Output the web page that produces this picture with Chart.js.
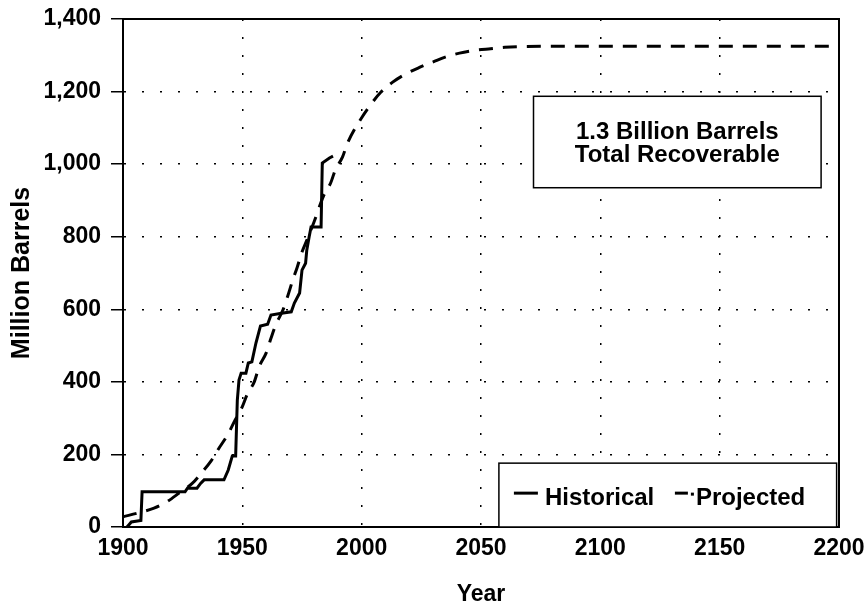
<!DOCTYPE html>
<html><head><meta charset="utf-8">
<script src="https://cdn.jsdelivr.net/npm/chart.js@4/dist/chart.umd.min.js"></script>
<style>html,body{margin:0;padding:0;background:#fff}#wrap{width:868px;height:610px}</style>
</head><body><div id="wrap"><canvas id="c" width="868" height="610"></canvas></div>
<script>
// ---- data ----
const histYears  = [1901.7,1903.5,1907.5,1908,1926,1927,1931,1932.5,1934,1942.3,1944.1,1945.8,1947.2,1947.9,1948.6,1949.5,1951.5,1952.5,1954,1955.7,1957.6,1960.6,1962,1966.4,1970.5,1971.8,1974,1975,1976.5,1977,1978,1978.8,1983,1983.5,1986.5,1988];
const histValues = [0,14,18,97,97,107,107,120,130,130,157,196,196,350,405,424,424,452,455,507,554,559,584,589,593,617,645,708,727,763,800,827,827,1003,1017,1022];
const projYears  = [1900,1907,1913,1918,1924,1929,1933,1937,1940,1944,1947,1950,1952,1955,1957,1960,1962,1964,1967,1969,1971,1973,1975,1977,1980,1984,1987,1989,1992,1994,2000,2004,2008,2013,2018,2024,2030,2035,2041,2048,2054,2060,2080,2200];
const projValues = [28,40,52,68,96,120,150,183,215,256,295,332,365,400,441,480,520,557,598,636,678,716,758,790,840,912,948,985,1020,1057,1128,1166,1198,1226,1247,1266,1282,1295,1306,1314,1318,1322,1325,1325];
const xTickLabels = [1900,1950,2000,2050,2100,2150,2200];
const yTickLabels = [0,200,400,600,800,1000,1200,1400];
const seriesNames = ['Historical','Projected'];
const noteLines = ['1.3 Billion Barrels','Total Recoverable'];
const xTitle = 'Year';
const yTitle = 'Million Barrels';

const FONT = "'Liberation Sans', Arial, Helvetica, sans-serif";
const toPts = (xs, ys) => xs.map((x, i) => ({x, y: ys[i]}));

const boxPlugin = {
  id: 'boxes',
  beforeDatasetsDraw(chart) {
    const {ctx, chartArea: a} = chart;
    ctx.save();
    ctx.strokeStyle = '#000'; ctx.lineWidth = 2; ctx.setLineDash([]);
    ctx.strokeRect(a.left, a.top, a.right - a.left, a.bottom - a.top);
    ctx.restore();
  },
  afterDatasetsDraw(chart) {
    const {ctx, scales} = chart;
    const xs = scales.x, ys = scales.y;
    ctx.save();
    ctx.setLineDash([]);
    // note box
    const nx1 = xs.getPixelForValue(2072), nx2 = xs.getPixelForValue(2192.5);
    const ny1 = ys.getPixelForValue(1187), ny2 = ys.getPixelForValue(935);
    ctx.fillStyle = '#fff';
    ctx.fillRect(nx1, ny1, nx2 - nx1, ny2 - ny1);
    ctx.strokeStyle = '#000'; ctx.lineWidth = 1.5;
    ctx.strokeRect(nx1, ny1, nx2 - nx1, ny2 - ny1);
    ctx.fillStyle = '#000';
    ctx.font = 'bold 24px ' + FONT;
    ctx.textAlign = 'center'; ctx.textBaseline = 'alphabetic';
    const cx = (nx1 + nx2) / 2;
    ctx.fillText(noteLines[0], cx, ny1 + 43);
    ctx.fillText(noteLines[1], cx, ny1 + 66);
    // legend box
    const lx1 = xs.getPixelForValue(2057.5), lx2 = xs.getPixelForValue(2199);
    const ly1 = ys.getPixelForValue(176), ly2 = ys.getPixelForValue(0);
    ctx.fillStyle = '#fff';
    ctx.fillRect(lx1, ly1, lx2 - lx1, ly2 - ly1);
    ctx.strokeStyle = '#000'; ctx.lineWidth = 1.5;
    ctx.strokeRect(lx1, ly1, lx2 - lx1, ly2 - ly1);
    const my = ly1 + 30;
    ctx.lineWidth = 3;
    ctx.beginPath(); ctx.moveTo(lx1 + 15, my); ctx.lineTo(lx1 + 39, my); ctx.stroke();
    ctx.beginPath(); ctx.moveTo(lx1 + 176, my); ctx.lineTo(lx1 + 189, my); ctx.stroke();
    ctx.beginPath(); ctx.moveTo(lx1 + 192, my + 1); ctx.lineTo(lx1 + 195, my + 1); ctx.stroke();
    ctx.fillStyle = '#000';
    ctx.font = 'bold 24px ' + FONT;
    ctx.textAlign = 'left'; ctx.textBaseline = 'alphabetic';
    ctx.fillText(seriesNames[0], lx1 + 46, my + 12);
    ctx.fillText(seriesNames[1], lx1 + 197, my + 12);
    ctx.restore();
  }
};

new Chart(document.getElementById('c'), {
  type: 'line',
  data: {
    datasets: [
      {label: seriesNames[0], data: toPts(histYears, histValues), borderColor: '#000', borderWidth: 3,
       pointRadius: 0, tension: 0, fill: false, borderJoinStyle: 'miter'},
      {label: seriesNames[1], data: toPts(projYears, projValues), borderColor: '#000', borderWidth: 3,
       borderDash: [14, 10], pointRadius: 0, cubicInterpolationMode: 'monotone', fill: false}
    ]
  },
  options: {
    responsive: false, animation: false, devicePixelRatio: 1,
    layout: {autoPadding: false, padding: {left: 7, right: 29, top: 19, bottom: 2}},
    plugins: {legend: {display: false}, tooltip: {enabled: false}},
    scales: {
      x: {
        type: 'linear', min: 1900, max: 2200,
        afterBuildTicks: s => { s.ticks = xTickLabels.map(v => ({value: v})); },
        afterFit: s => { s.height = 81; s.paddingLeft = 0; s.paddingRight = 0; s.paddingTop = 0; s.paddingBottom = 0; },
        grid: {color: '#000', lineWidth: 1.5, drawTicks: false},
        border: {display: true, color: '#000', width: 2, dash: [2, 16]},
        ticks: {padding: 8, color: '#000', font: {family: FONT, size: 23, weight: 'bold'}, callback: v => String(v), maxRotation: 0},
        title: {display: true, text: xTitle, color: '#000', padding: {top: 0, bottom: 0}, font: {family: FONT, size: 23, weight: 'bold'}}
      },
      y: {
        min: 0, max: 1400,
        afterBuildTicks: s => { s.ticks = yTickLabels.map(v => ({value: v})); },
        afterFit: s => { s.width = 116; s.paddingLeft = 0; s.paddingRight = 0; s.paddingTop = 0; s.paddingBottom = 0; },
        grid: {color: '#000', lineWidth: 1.5, drawTicks: true, tickLength: 12, tickColor: '#000', tickWidth: 1.5, tickBorderDash: []},
        border: {display: true, color: '#000', width: 2, dash: [2, 16]},
        ticks: {padding: 10, color: '#000', font: {family: FONT, size: 23, weight: 'bold'}, callback: v => Number(v).toLocaleString('en-US')},
        title: {display: true, text: yTitle, color: '#000', padding: {top: 0, bottom: 0}, font: {family: FONT, size: 25, weight: 'bold'}}
      }
    }
  },
  plugins: [boxPlugin]
});
</script>
</body></html>
